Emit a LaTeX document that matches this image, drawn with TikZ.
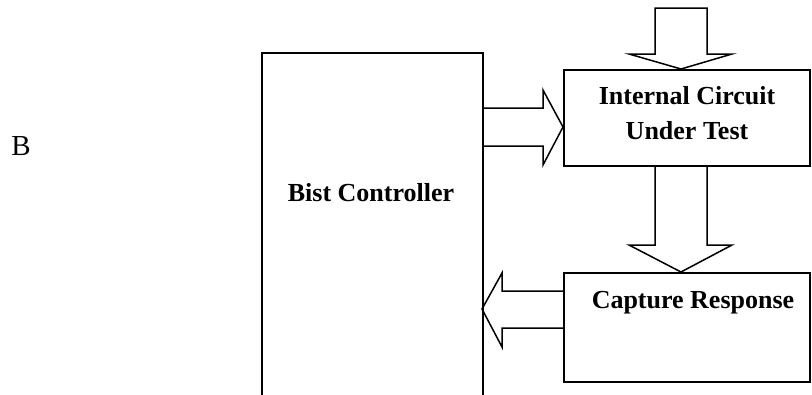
\documentclass[tikz,border=0pt]{standalone}
\usepackage{fontspec}
\setmainfont{Liberation Serif}
\begin{document}
\begin{tikzpicture}[x=1pt,y=-1pt,
  box/.style={draw=black,line width=1.7pt,rectangle,inner sep=0pt},
  lbl/.style={font=\fontsize{26}{35}\selectfont\bfseries,align=center,inner sep=0pt},
  blk/.style={draw=black,line width=1.5pt,line join=miter}]
\useasboundingbox (0,0) rectangle (812,394);
\begin{scope}
\clip (0,0) rectangle (812,394);
\node[box,anchor=north west,minimum width=221pt,minimum height=380pt] (bist) at (261,52) {};
\end{scope}
\node[box,anchor=north west,minimum width=246pt,minimum height=96pt] (cut) at (563,69) {};
\node[box,anchor=north west,minimum width=246pt,minimum height=109pt] (cap) at (563,272) {};
% labels
\node[lbl,anchor=base] (bistl) at (371,201) {Bist Controller};
\node[lbl,anchor=base] (cutl1) at (687,104) {Internal Circuit};
\node[lbl,anchor=base] (cutl2) at (687,139) {Under Test};
\node[lbl,anchor=base] (capl) at (693,308) {Capture Response};
\node[font=\fontsize{29}{34}\selectfont,inner sep=0pt,anchor=base] (b) at (21,155) {B};
% top input arrow
\draw[blk] (655,8) -- (707,8) -- (707,54) -- (732,54) -- (681,69) -- (629,54) -- (655,54) -- cycle;
% bist -> cut
\draw[blk] (482,108) -- (543,108) -- (543,90) -- (563,127) -- (543,165) -- (543,146) -- (482,146);
% cut -> cap
\draw[blk] (655,165) -- (655,245) -- (629,245) -- (681,272) -- (732,245) -- (707,245) -- (707,165);
% cap -> bist
\draw[blk] (563,291) -- (502,291) -- (502,273) -- (482,309) -- (502,347) -- (502,328) -- (563,328);
\end{tikzpicture}
\end{document}
